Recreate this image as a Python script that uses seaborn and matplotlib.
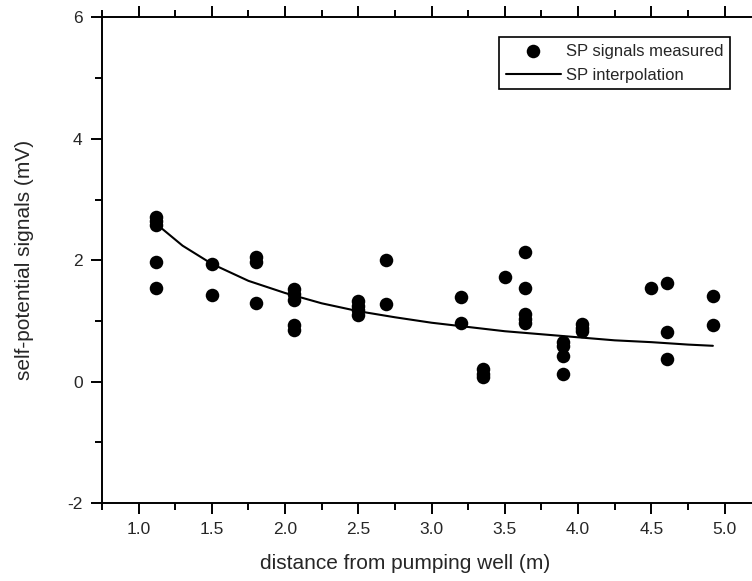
import numpy as np
import matplotlib
matplotlib.use('Agg')
import matplotlib.pyplot as plt
import pandas as pd
import seaborn as sns
from matplotlib.ticker import MultipleLocator

# measured SP signals
dist = [1.12, 1.12, 1.12, 1.12, 1.12,
        1.50, 1.50,
        1.80, 1.80, 1.80,
        2.06, 2.06, 2.06, 2.06, 2.06,
        2.50, 2.50, 2.50, 2.50,
        2.69, 2.69,
        3.20, 3.20,
        3.35, 3.35, 3.35,
        3.50,
        3.64, 3.64, 3.64, 3.64, 3.64,
        3.90, 3.90, 3.90, 3.90,
        4.03, 4.03, 4.03,
        4.50,
        4.61, 4.61, 4.61,
        4.92, 4.92]
sp = [2.72, 2.65, 2.58, 1.97, 1.54,
      1.94, 1.42,
      2.05, 1.97, 1.29,
      1.53, 1.45, 1.35, 0.93, 0.85,
      1.32, 1.25, 1.18, 1.10,
      2.00, 1.28,
      1.40, 0.96,
      0.20, 0.12, 0.08,
      1.73,
      2.13, 1.54, 1.12, 1.03, 0.97,
      0.65, 0.58, 0.43, 0.12,
      0.95, 0.88, 0.83,
      1.55,
      1.63, 0.81, 0.38,
      1.41, 0.93]

# interpolation curve
curve_x = [1.12, 1.3, 1.5, 1.75, 2.0, 2.25, 2.5, 2.75, 3.0, 3.25, 3.5,
           3.75, 4.0, 4.25, 4.5, 4.75, 4.92]
curve_y = [2.60, 2.24, 1.94, 1.66, 1.46, 1.29, 1.16, 1.06, 0.97, 0.90, 0.83,
           0.78, 0.73, 0.68, 0.65, 0.61, 0.59]

meas = pd.DataFrame({'dist': dist, 'sp': sp})
interp = pd.DataFrame({'dist': curve_x, 'sp': curve_y})

sns.set_style('ticks')
plt.rcParams['font.family'] = ['Liberation Sans', 'DejaVu Sans']

fig = plt.figure(figsize=(7.52, 5.81), dpi=100)
ax = fig.add_axes([0.1356, 0.1343, 0.8644, 0.8356])

sns.scatterplot(data=meas, x='dist', y='sp', ax=ax, color='black', s=95,
                edgecolor='black', linewidth=0, label='SP signals measured', zorder=3)
sns.lineplot(data=interp, x='dist', y='sp', ax=ax, color='black', linewidth=1.5,
             sort=False, label='SP interpolation')

ax.set_xlim(0.75, 5.187)
ax.set_ylim(-2, 6)
ax.xaxis.set_major_locator(MultipleLocator(0.5))
ax.xaxis.set_minor_locator(MultipleLocator(0.25))
ax.yaxis.set_major_locator(MultipleLocator(2))
ax.yaxis.set_minor_locator(MultipleLocator(1))
ax.set_yticklabels(ax.get_yticks().astype(int))

for s in ['left', 'bottom', 'top']:
    ax.spines[s].set_linewidth(1.4)
    ax.spines[s].set_color('black')
ax.spines['right'].set_visible(False)

ax.tick_params(which='both', direction='out', top=True, right=False, width=1.4, color='black')
ax.tick_params(which='major', length=8, labelsize=12.5, pad=6)
ax.tick_params(which='minor', length=5)
ax.tick_params(axis='x', top=True, labeltop=False)

ax.set_xlabel('distance from pumping well (m)', fontsize=15)
ax.set_ylabel('self-potential signals (mV)', fontsize=15)
ax.xaxis.set_label_coords(0.466, -0.105)
ax.yaxis.set_label_coords(-0.105, 0.5)

leg = ax.legend(loc='upper right', bbox_to_anchor=(0.966, 0.960), fontsize=12,
                frameon=True, fancybox=False, edgecolor='black', framealpha=1,
                handlelength=3.3, handletextpad=0.3, borderpad=0.4, labelspacing=0.55,
                borderaxespad=0)
leg.get_frame().set_linewidth(1.2)

fig.savefig('out.png', dpi=100)
